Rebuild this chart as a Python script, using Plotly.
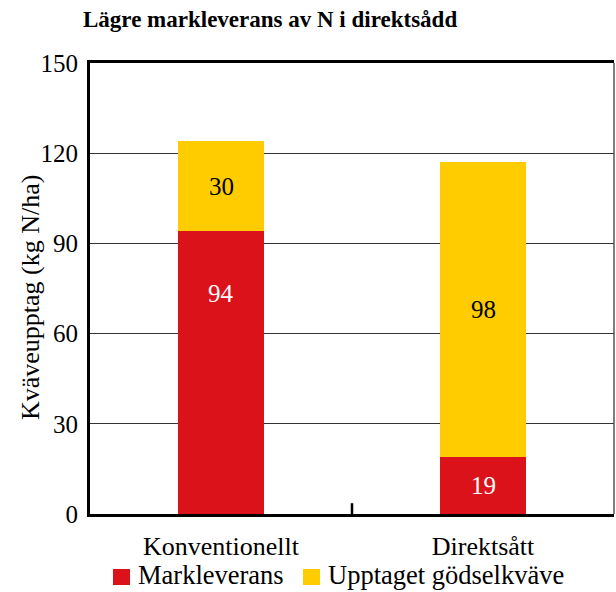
import plotly.graph_objects as go

categories = ["Konventionellt", "Direktsått"]
markleverans = [94, 19]
upptaget = [30, 98]
y_ticks = [0, 30, 60, 90, 120, 150]

# where each value label sits inside its segment (fraction of segment height)
mark_label_frac = [0.78, 0.5]
upp_label_frac = [0.5, 0.5]

RED = "#DC121B"
YELLOW = "#FFCC00"
FONT = "Liberation Serif"

# plot-area geometry in pixels (used for legend placement in paper coords)
W, H = 616, 592
L, R, T, B = 90, 2, 63, 78
PW, PH = W - L - R, H - T - B


def px_x(px):
    return (px - L) / PW


def px_y(py):
    return (H - B - py) / PH


fig = go.Figure()
fig.add_trace(go.Bar(
    x=categories, y=markleverans, name="Markleverans",
    marker=dict(color=RED, line=dict(width=0)), showlegend=False,
))
fig.add_trace(go.Bar(
    x=categories, y=upptaget, name="Upptaget gödselkväve",
    marker=dict(color=YELLOW, line=dict(width=0)), showlegend=False,
))

# value labels inside the stacked segments
for i, cat in enumerate(categories):
    fig.add_annotation(x=cat, y=markleverans[i] * mark_label_frac[i], xref="x", yref="y",
                       text=str(markleverans[i]), showarrow=False,
                       font=dict(family=FONT, size=25, color="white"))
    fig.add_annotation(x=cat, y=markleverans[i] + upptaget[i] * upp_label_frac[i],
                       xref="x", yref="y", text=str(upptaget[i]), showarrow=False,
                       font=dict(family=FONT, size=25, color="black"))

fig.update_layout(
    barmode="stack",
    bargap=0.675,
    width=W, height=H,
    margin=dict(l=L, r=R, t=T, b=B, autoexpand=False),
    paper_bgcolor="white", plot_bgcolor="white",
    font=dict(family=FONT, size=25, color="black"),
    showlegend=False,
)
fig.update_xaxes(
    showline=True, linecolor="black", linewidth=3, mirror=True,
    showgrid=False, ticks="", tickfont=dict(family=FONT, size=26),
    ticklabelstandoff=7,
)
fig.update_yaxes(
    range=[0, 150], tickvals=y_ticks, ticktext=[str(v) for v in y_ticks],
    showline=True, linecolor="black", linewidth=3,
    showgrid=True, gridcolor="#333333", gridwidth=1.3,
    ticks="", tickfont=dict(family=FONT, size=25), zeroline=False,
    ticklabelstandoff=4,
)

# thin right border of the plot frame
fig.add_shape(type="line", xref="paper", yref="paper", x0=1, x1=1, y0=0, y1=1,
              line=dict(color="#555555", width=1.5))
# divider tick between the two categories
fig.add_shape(type="line", xref="x", yref="y", x0=0.5, x1=0.5, y0=0, y1=3.6,
              line=dict(color="black", width=2.5))

# legend: colour squares with their names
legend_items = [("Markleverans", RED, 113), ("Upptaget gödselkväve", YELLOW, 303)]
for name, color, x0 in legend_items:
    fig.add_shape(type="rect", xref="paper", yref="paper",
                  x0=px_x(x0), x1=px_x(x0 + 17), y0=px_y(585), y1=px_y(569),
                  fillcolor=color, line=dict(width=0))
    fig.add_annotation(text=name, xref="paper", yref="paper",
                       x=px_x(x0 + 24), y=px_y(575), xanchor="left", yanchor="middle",
                       showarrow=False, borderpad=0, font=dict(family=FONT, size=26.5))

fig.add_annotation(text="<b>Lägre markleverans av N i direktsådd</b>",
                   xref="paper", yref="paper", x=px_x(270), y=px_y(20),
                   xanchor="center", yanchor="middle",
                   showarrow=False, font=dict(family=FONT, size=23))
fig.add_annotation(text="Kväveupptag (kg N/ha)", textangle=-90,
                   xref="paper", yref="paper", x=px_x(30), y=px_y(298),
                   xanchor="center", yanchor="middle",
                   showarrow=False, font=dict(family=FONT, size=26))

fig.write_html("out.html")
